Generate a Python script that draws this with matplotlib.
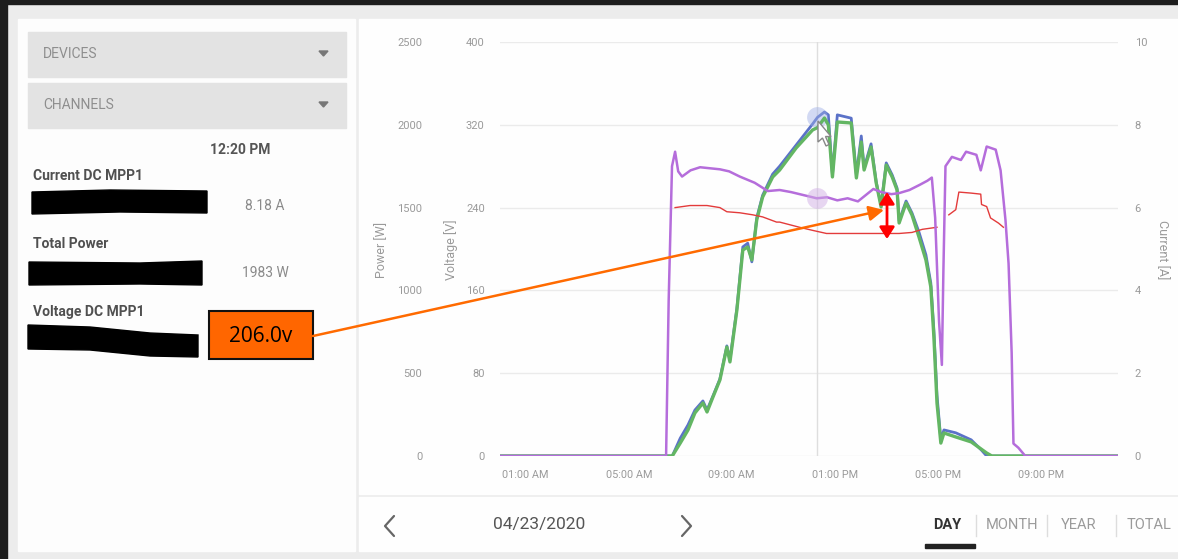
import matplotlib
matplotlib.use("Agg")
import matplotlib.pyplot as plt
import numpy as np
from matplotlib.patches import Rectangle, Polygon

plt.rcParams['font.family'] = ['Roboto', 'DejaVu Sans']

# ---- data (hours of day) ----
volt_h = [0, 6.45, 6.55, 6.68, 6.80, 6.92, 7.07, 7.4, 7.77, 8.15, 8.54, 8.9, 9.31, 9.89,
          10.40, 10.86, 11.3, 11.8, 12.3, 12.7, 13.1, 13.5, 13.9, 14.2, 14.5, 14.8, 15.2,
          15.5, 15.9, 16.3, 16.6, 16.77, 16.9, 17.05, 17.16, 17.22, 17.3, 17.55, 17.9,
          18.1, 18.5, 18.67, 18.9, 19.25, 19.44, 19.63, 19.75, 19.87, 19.94, 20.13, 20.4, 24]
volt_v = [0, 0, 150, 280, 294, 275, 270, 276, 279, 278, 277, 275, 270, 264,
          256, 257, 255, 252, 249, 250, 247, 249, 246, 252, 258, 255, 253,
          254, 257, 262, 266, 269, 230, 130, 88, 180, 280, 289, 286,
          294, 291, 276, 299, 296, 276, 228, 186, 100, 12, 8, 0, 0]

volt2_h = [6.80, 7.38, 8.04, 8.54, 8.81, 9.31, 9.82, 10.2, 10.74, 10.86, 11.63, 12.14,
           12.68, 14.0, 15.5, 16.0, 16.4, 16.97, 17.2, 17.43, 17.7, 17.82, 18.3, 18.67,
           18.7, 18.9, 19.05, 19.36, 19.55]
volt2_v = [240, 242, 242, 240, 236, 235, 233, 231, 226, 226, 221, 218,
           215, 215, 215, 216, 219, 221, np.nan, 233, 238, 255, 254, 253,
           243, 241, 230, 225, 221]

power_h = [0, 6.69, 7.0, 7.3, 7.57, 7.88, 8.04, 8.27, 8.54, 8.81, 8.93, 9.2, 9.43, 9.62,
           9.78, 9.97, 10.2, 10.59, 10.86, 11.5, 12.14, 12.33, 12.6, 12.75, 12.91, 13.1,
           13.64, 13.84, 14.03, 14.14, 14.41, 14.61, 14.8, 15.0, 15.23, 15.42, 15.5,
           15.77, 16.0, 16.27, 16.54, 16.73, 16.85, 16.97, 17.12, 17.24, 17.7, 18.3,
           18.9, 19.1, 24]
power_w = [0, 0, 78, 157, 260, 320, 266, 356, 459, 658, 568, 882, 1244, 1262,
           1184, 1425, 1564, 1685, 1727, 1860, 1969, 1983, 2041, 2000, 1685, 2017,
           2011, 1679, 1896, 1727, 1866, 1649, 1504, 1757, 1685, 1606, 1407,
           1528, 1455, 1323, 1184, 1021, 719, 320, 78, 139, 115, 85,
           18, 0, 0]

curr_h = [0, 6.69, 7.0, 7.3, 7.57, 7.88, 8.04, 8.27, 8.54, 8.81, 8.93, 9.2, 9.43, 9.62,
          9.78, 9.97, 10.2, 10.59, 10.86, 11.5, 12.14, 12.33, 12.6, 12.75, 12.91, 13.1,
          13.64, 13.84, 14.03, 14.14, 14.41, 14.61, 14.8, 15.0, 15.23, 15.42, 15.5,
          15.77, 16.0, 16.27, 16.54, 16.73, 16.85, 16.97, 17.12, 17.24, 17.7, 18.3,
          18.7, 18.9, 24]
curr_a = [0, 0, 0.43, 0.75, 1.11, 1.33, 1.11, 1.45, 1.86, 2.66, 2.32, 3.57, 5.05, 5.14,
          4.69, 5.75, 6.30, 6.81, 7.00, 7.51, 8.02, 8.18, 8.31, 8.24, 6.79, 8.24,
          8.16, 6.79, 7.73, 6.96, 7.54, 6.62, 6.06, 7.08, 6.79, 6.47, 5.68,
          6.16, 5.87, 5.41, 4.86, 4.18, 3.04, 1.47, 0.39, 0.63, 0.56, 0.39,
          0.14, 0, 0]

cursor_h = 12.33
cursor_amp = 8.18
cursor_volt = 249

x_ticks = [1, 5, 9, 13, 17, 21]
x_labels = ["01:00 AM", "05:00 AM", "09:00 AM", "01:00 PM", "05:00 PM", "09:00 PM"]
power_ticks = [0, 500, 1000, 1500, 2000, 2500]
volt_ticks = [0, 80, 160, 240, 320, 400]
curr_ticks = [0, 2, 4, 6, 8, 10]

W, H = 1178, 559
fig = plt.figure(figsize=(W / 100, H / 100), dpi=100)
fig.patch.set_facecolor('#ececec')


def fr(x0, y0, x1, y1):
    return [x0 / W, 1 - y1 / H, (x1 - x0) / W, (y1 - y0) / H]


# ---- page background / cards ----
bg = fig.add_axes([0, 0, 1, 1])
bg.set_zorder(-5)
bg.set_xlim(0, W)
bg.set_ylim(H, 0)
bg.axis('off')
bg.add_patch(Rectangle((0, 0), W, 3.5, color='#1d1d1d'))
bg.add_patch(Rectangle((0, 0), 7, H, color='#1d1d1d'))
bg.add_patch(Rectangle((18, 19), 337, 532, color='#fdfdfd'))
bg.add_patch(Rectangle((359, 19), W - 359, 475, color='#fefefe'))
bg.add_patch(Rectangle((359, 497), W - 359, 54, color='#fefefe'))

# dropdowns
for y0, lab in [(32, 'DEVICES'), (83, 'CHANNELS')]:
    bg.add_patch(Rectangle((28, y0), 318, 45, color='#e3e3e3'))
    bg.text(43, y0 + 22, lab, fontsize=10, color='#8e8e8e', va='center')
    bg.add_patch(Polygon([(319, y0 + 19), (328, y0 + 19), (323.5, y0 + 24)], color='#777777'))

bg.text(240, 150, '12:20 PM', fontsize=10, weight='bold', color='#555555', ha='center', va='center')
bg.text(33, 176, 'Current DC MPP1', fontsize=10, weight='bold', color='#505050', va='center')
bg.text(245, 206, '8.18 A', fontsize=10, color='#8a8a8a', va='center')
bg.text(33, 244, 'Total Power', fontsize=10, weight='bold', color='#505050', va='center')
bg.text(242, 273, '1983 W', fontsize=10, color='#8a8a8a', va='center')
bg.text(33, 312, 'Voltage DC MPP1', fontsize=10, weight='bold', color='#505050', va='center')

# redaction marks
bg.add_patch(Polygon([(32, 192), (110, 190), (207, 191), (207, 213), (120, 212), (32, 214)], color='black'))
bg.add_patch(Polygon([(29, 262), (140, 263), (202, 261), (202, 285), (140, 284), (29, 285)], color='black'))
bg.add_patch(Polygon([(28, 325), (90, 327), (150, 333), (198, 335), (198, 357), (150, 356),
                      (90, 350), (28, 349)], color='black'))

# bottom bar
bg.plot([394, 385, 394], [516, 526, 536], color='#666666', lw=1.6, solid_capstyle='round')
bg.plot([682, 691, 682], [516, 526, 536], color='#666666', lw=1.6, solid_capstyle='round')
bg.text(539, 525, '04/23/2020', fontsize=12.5, color='#555555', ha='center', va='center')
bg.text(947, 525, 'DAY', fontsize=10.5, weight='bold', color='#333333', ha='center', va='center')
bg.text(1012, 525, 'MONTH', fontsize=10.5, color='#9a9a9a', ha='center', va='center')
bg.text(1079, 525, 'YEAR', fontsize=10.5, color='#9a9a9a', ha='center', va='center')
bg.text(1149, 525, 'TOTAL', fontsize=10.5, color='#9a9a9a', ha='center', va='center')
for sx in [976, 1047, 1116]:
    bg.plot([sx, sx], [515, 536], color='#dddddd', lw=1)
bg.add_patch(Rectangle((925, 544), 50, 4, color='#222222'))

# ---- chart ----
ax_i = fig.add_axes(fr(500, 42, 1118, 456))
ax_p = ax_i.twinx()
ax = ax_i.twinx()
ax_i.set_zorder(1)
ax_p.set_zorder(2)
ax.set_zorder(3)
for a in (ax, ax_p, ax_i):
    a.patch.set_visible(False)
    for s in a.spines.values():
        s.set_visible(False)

ax_i.set_xlim(0, 24)
ax_i.set_ylim(0, 10)
ax_p.set_ylim(0, 2500)
ax.set_ylim(0, 400)

ax_i.set_xticks(x_ticks)
ax_i.set_xticklabels(x_labels)
ax_i.tick_params(axis='x', length=0, pad=10, labelsize=7.8, labelcolor='#9a9a9a')

ax_i.yaxis.tick_right()
ax_i.set_yticks(curr_ticks)
ax_i.tick_params(axis='y', length=0, pad=12, labelsize=8, labelcolor='#9a9a9a')
ax_i.grid(axis='y', color='#ebebeb', lw=1)
ax_i.axvline(cursor_h, color='#dedede', lw=1)

ax_p.yaxis.tick_left()
ax_p.set_yticks(power_ticks)
ax_p.tick_params(axis='y', length=0, pad=56, labelsize=8, labelcolor='#9a9a9a')

ax.yaxis.tick_left()
ax.set_yticks(volt_ticks)
ax.tick_params(axis='y', length=0, pad=11, labelsize=8, labelcolor='#9a9a9a')

ax_i.plot(curr_h, curr_a, color='#5b72c8', lw=2.0)
ax_i.plot([cursor_h], [cursor_amp], 'o', ms=15, color='#9eaee6', alpha=0.45, mew=0)
ax_p.plot(power_h, power_w, color='#63b663', lw=2.4)
ax.plot(volt2_h, volt2_v, color='#e33b3b', lw=1.0)
ax.plot(volt_h, volt_v, color='#b56ddb', lw=1.8)
ax.plot([cursor_h], [cursor_volt], 'o', ms=15, color='#d2b0e6', alpha=0.5, mew=0)

fig.text(382 / W, 1 - 250 / H, 'Power [W]', rotation=90, fontsize=9, color='#9a9a9a', ha='center', va='center')
fig.text(451 / W, 1 - 250 / H, 'Voltage [V]', rotation=90, fontsize=9, color='#9a9a9a', ha='center', va='center')
fig.text(1162 / W, 1 - 250 / H, 'Current [A]', rotation=270, fontsize=9, color='#9a9a9a', ha='center', va='center')

# ---- overlay annotations ----
fg = fig.add_axes([0, 0, 1, 1])
fg.set_zorder(10)
fg.patch.set_visible(False)
fg.set_xlim(0, W)
fg.set_ylim(H, 0)
fg.axis('off')
fg.add_patch(Polygon([(818, 121), (818, 142), (822.5, 138), (826, 146), (829, 144.5),
                      (825.5, 136.5), (831, 136.5)], facecolor='white', edgecolor='#888888', lw=1))
fg.annotate('', xy=(884, 210), xytext=(313, 336),
            arrowprops=dict(arrowstyle='-|>,head_length=0.9,head_width=0.45', color='#ff6a00', lw=1.8,
                            shrinkA=0, shrinkB=0))
fg.annotate('', xy=(887, 192), xytext=(887, 239),
            arrowprops=dict(arrowstyle='<|-|>,head_length=0.7,head_width=0.45', color='#ff0000', lw=2,
                            shrinkA=0, shrinkB=0))
fg.add_patch(Rectangle((209, 311), 104, 48, facecolor='#ff6600', edgecolor='#111111', lw=1.5))
fg.text(261, 336, '206.0v', fontsize=15, color='black', ha='center', va='center',
        family=['Open Sans', 'DejaVu Sans'])

fig.savefig('out.png', dpi=100, facecolor=fig.get_facecolor())
